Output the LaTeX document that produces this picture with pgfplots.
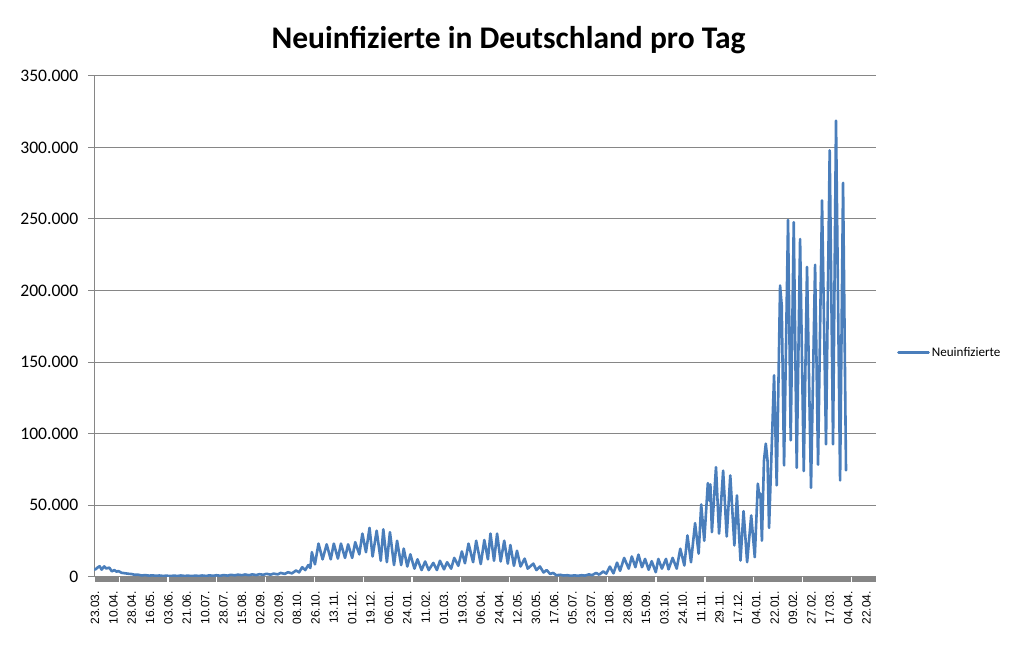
\documentclass[border=0pt]{standalone}
\usepackage{fontspec}
\setmainfont{Carlito}
\newfontfamily\xlabfont{Liberation Sans}
\usepackage{pgfplots}
\usepackage{pgfplotstable}
\pgfplotsset{compat=1.18}
\definecolor{serie}{HTML}{4A7EBB}
\definecolor{gitter}{HTML}{868686}

% Tag (Kategorie ab 23.03.2020), Neuinfizierte
\pgfplotstableread{
x y
0 4700
2 6000
4.5 7200
6.5 4800
9 7100
11 5600
14 6200
16.5 3600
19 4500
21 3400
23 3800
26 2600
29 2300
33 1900
36 1700
39 1200
42 1300
46 700
49 1000
53 600
56 800
60 500
63 700
67 400
70 600
74 300
77 600
81 400
84 700
88 400
91 600
95 300
98 600
102 400
105 700
109 400
112 800
116 500
119 900
123 500
126 1000
130 600
133 1200
137 800
140 1300
144 900
147 1400
151 900
154 1500
158 1000
161 1600
165 1200
168 1900
172 1300
175 2000
179 1500
182 2500
186 1800
189 3000
193 2200
197 4200
200 2900
203 6500
206 4500
209 8000
211 6000
212.5 17000
215.5 8500
219 23000
223 12000
227 22500
231 12000
234 23000
238 12500
241 23000
245 13000
248 22500
252 13000
255 24000
259 15500
262 30000
265.5 17000
269 34000
272 14000
276 32000
280 11000
282.5 33000
286 10000
289 31000
293 8000
296 25000
300 8000
302.5 19500
306 7000
309 15500
313 5500
316 12000
320 4500
323.5 10500
327 4500
331.5 9500
335 4500
338 11000
342 5000
345 10000
349 5500
352 13000
356 7500
359.5 17500
362.5 9300
366 23000
370.5 10000
373.5 25000
378 8700
381.5 25500
385 12000
387.5 30000
391 11000
394 30000
397.5 10500
401 25000
404.5 9000
407 22000
410.5 7500
413.5 18000
417 7000
421 12500
424 5500
429.5 9000
432.5 4500
436 7000
439.5 2800
442.5 4500
446 1800
449 2500
452 900
456 1200
459 700
463 900
466 500
470 800
473 500
477 900
480 600
484 1500
487 900
491 2500
494 1300
498 3500
501 2000
504.5 6900
508 2200
511.5 9700
514.5 4000
518.5 13000
523 5500
526 14000
529.5 6500
532.5 15300
536 6500
539 12300
542.5 4700
545.5 10700
549.5 3000
552 12300
555.5 5500
559.5 12300
562 5000
566 13000
570 5500
573.5 19400
577.5 7700
580.5 28700
584 10000
588 37300
591.5 16000
594 50400
597 25000
600.5 65300
602 53000
603 64400
604.5 31000
608.5 76500
611.5 30000
615.5 74000
619 28000
622.5 70700
626.5 21700
629 56700
632.5 11200
635.5 45700
639 10000
643 42700
646.5 13500
649.5 64900
651 55600
652 58000
653.5 25000
655.5 81000
657.3 92900
659 81000
660.5 34000
665.4 140700
668 63700
671.3 203500
672.9 189500
675.2 77700
679.1 249300
681.7 95200
684.7 247700
687.6 76000
690.9 236000
694.5 73700
697.7 216500
701.6 62000
705.6 218000
708.5 78200
712.4 263000
716.3 92400
719.9 298000
723.2 92400
726.1 318700
730.1 67200
733 275300
735.9 74200
}\neuinf

\begin{document}
\begin{tikzpicture}
\path[use as bounding box] (0,0) rectangle (1011pt,646pt);
\node[font=\bfseries\fontsize{31.5}{36}\selectfont, anchor=base] at (508.5pt,597pt)
  {Neuinfizierte in Deutschland pro Tag};
\begin{axis}[
  at={(94.5pt,69.5pt)}, anchor=south west,
  scale only axis, width=781.5pt, height=500.5pt,
  xmin=-0.5, xmax=765.3, ymin=0, ymax=350000,
  axis lines*=left,
  axis line style={-, draw=gitter, line width=1pt},
  x axis line style={draw=none},
  ymajorgrids, grid style={gitter, line width=1pt},
  tick align=outside, major tick length=6pt,
  ytick={0,50000,...,350000},
  ytick style={gitter, line width=1pt},
  xtick={0,18,...,756},
  xtick style={draw=none},
  xticklabels={23.03.,10.04.,28.04.,16.05.,03.06.,21.06.,10.07.,28.07.,15.08.,02.09.,
    20.09.,08.10.,26.10.,13.11.,01.12.,19.12.,06.01.,24.01.,11.02.,01.03.,
    19.03.,06.04.,24.04.,12.05.,30.05.,17.06.,05.07.,23.07.,10.08.,28.08.,
    15.09.,03.10.,24.10.,11.11.,29.11.,17.12.,04.01.,22.01.,09.02.,27.02.,
    17.03.,04.04.,22.04.},
  xticklabel style={font=\xlabfont\fontsize{12}{14}\selectfont, inner sep=0pt,
    yshift=-8.5pt, rotate=90, anchor=east},
  yticklabel style={font=\fontsize{17.6}{20}\selectfont, inner sep=0pt, xshift=-10pt},
  scaled y ticks=false,
  /pgf/number format/fixed,
  /pgf/number format/1000 sep={.},
  /pgf/number format/assume math mode=true,
  legend style={at={(axis description cs:1.0269,0.4472)}, anchor=west,
    draw=none, fill=none, inner sep=0pt,
    font=\fontsize{13.1}{15}\selectfont, cells={anchor=west}},
  legend image code/.code={\draw[#1] (0pt,0pt) -- (30pt,0pt);},
  clip=false,
]
\addplot[serie, line width=2.6pt, line join=round, line cap=round] table[x=x,y=y]{\neuinf};
\addlegendentry{Neuinfizierte}
\draw[gitter, line width=5pt] ([yshift=-2.5pt]rel axis cs:0,0) -- ([yshift=-2.5pt]rel axis cs:1,0);
\pgfplotsinvokeforeach{23.7,71.5,119.4,167.2,215,262.9,310.7,358.5,406.4,454.2,502,549.8,597.7,645.5,693.4,741.2}{
  \draw[white, line width=1.2pt] (axis cs:#1,0) -- ([yshift=-5pt]axis cs:#1,0);
}
\end{axis}
\end{tikzpicture}
\end{document}
